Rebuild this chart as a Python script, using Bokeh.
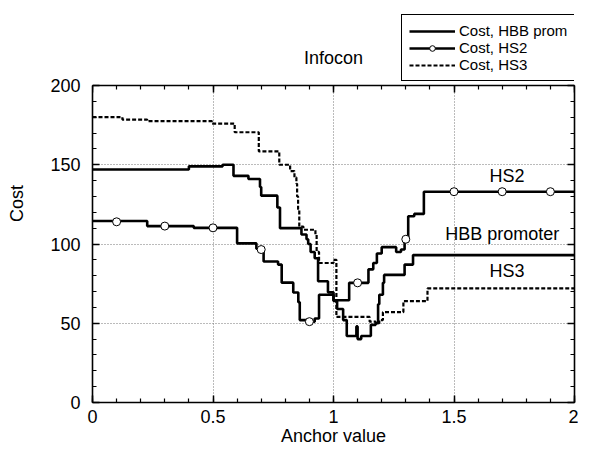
from bokeh.plotting import figure
from bokeh.models import (Range1d, LinearAxis, FixedTicker, Legend, LegendItem,
                          Label, CustomJSTickFormatter, BoxAnnotation)
from bokeh.embed import file_html
from bokeh.resources import INLINE

# ---------------- data ----------------
hbb_x = [0, 0.40, 0.54, 0.585, 0.647, 0.695, 0.70, 0.767, 0.778, 0.867, 0.875,
         0.888, 0.895, 0.905, 0.922, 0.936, 0.977, 1.0, 1.015, 1.04, 1.055,
         1.095, 1.10, 1.115, 1.155, 1.175, 1.185, 1.19, 1.205, 1.21, 1.295,
         1.33, 2.0]
hbb_y = [147, 149, 150, 143, 141, 136, 130.5, 123, 110, 106, 106,
         103, 100, 95, 91, 76.5, 69.5, 64, 59, 52, 42,
         48, 40, 42, 49, 50, 62, 68, 75.5, 80.5, 87,
         93, 93]

hs2_x = [0, 0.227, 0.42, 0.60, 0.68, 0.71, 0.77, 0.785, 0.833, 0.854, 0.86,
         0.90, 0.922, 0.94, 1.0, 1.065, 1.14, 1.145, 1.165, 1.18, 1.20,
         1.255, 1.26, 1.28, 1.295, 1.31, 1.335, 1.375, 2.0]
hs2_y = [114.5, 111.3, 110.2, 100.4, 97, 89, 87, 75.6, 69.4, 63.3, 52,
         51, 53, 68, 64.5, 75.5, 75.5, 84, 88, 94, 98,
         98, 95, 96.5, 103, 117.5, 119, 133, 133]

hs2_marker_x = [0.1, 0.3, 0.5, 0.7, 0.9, 1.1, 1.3, 1.5, 1.7, 1.9]
hs2_marker_y = [114, 111.3, 110.2, 96.5, 51, 75.5, 103, 133, 133, 133]

hs3_x = [0, 0.124, 0.227, 0.496, 0.59, 0.69, 0.775, 0.82, 0.838, 0.846,
         0.849, 0.853, 0.858, 0.875, 0.925, 0.93, 0.94, 1.0, 1.012, 1.14,
         1.15, 1.175, 1.19, 1.205, 1.285, 1.29, 1.39, 2.0]
hs3_y = [180, 178.5, 177.5, 176, 170.5, 158.5, 150, 146, 142, 138,
         130, 122, 111, 109, 106, 95, 88, 90, 54, 54,
         51, 50, 52, 57, 57, 64, 72, 72]

x_ticks = [0, 0.5, 1, 1.5, 2]
x_minor = [0, 0.1, 0.2, 0.3, 0.4, 0.5, 0.6, 0.7, 0.8, 0.9, 1.0,
           1.1, 1.2, 1.3, 1.4, 1.5, 1.6, 1.7, 1.8, 1.9, 2.0]
y_ticks = [0, 50, 100, 150, 200]
y_minor = [0, 10, 20, 30, 40, 50, 60, 70, 80, 90, 100, 110, 120, 130, 140,
           150, 160, 170, 180, 190, 200]
grid_x = [0.5, 1, 1.5]
grid_y = [50, 100, 150]
x_limits = (0, 2)
y_limits = (0, 200)

chart_title = "Infocon"
title_x, title_y = 1.0, 217.5

curve_names = ["HS2", "HBB promoter", "HS3"]
curve_label_x = [1.72, 1.70, 1.72]
curve_label_y = [143, 106, 83]

legend_labels = ["Cost, HBB prom", "Cost, HS2", "Cost, HS3"]

FONT = "Liberation Sans"

# ---------------- layout geometry (pixels) ----------------
W, H = 578, 450
FRAME_LEFT, FRAME_RIGHT = 92, 574
FRAME_TOP, PLOT_TOP, FRAME_BOTTOM = 4, 85, 402
# extend the y range above 200 so that the title/legend area lies in the frame
y_view_top = y_limits[1] * (FRAME_BOTTOM - FRAME_TOP) / (FRAME_BOTTOM - PLOT_TOP)

p = figure(width=W, height=H, output_backend="svg", toolbar_location=None,
           x_range=Range1d(*x_limits), y_range=Range1d(y_limits[0], y_view_top),
           min_border_left=FRAME_LEFT, min_border_right=W - FRAME_RIGHT,
           min_border_top=FRAME_TOP, min_border_bottom=H - FRAME_BOTTOM)
p.background_fill_color = "white"
p.border_fill_color = "white"
p.outline_line_color = None

tick_fmt = CustomJSTickFormatter(code="return tick.toString();")
blank = CustomJSTickFormatter(code="return '';")

def style_axis(ax):
    ax.major_tick_in = 7
    ax.major_tick_out = 0
    ax.minor_tick_in = 4
    ax.minor_tick_out = 0
    ax.axis_line_color = "black"
    ax.axis_line_width = 1.6
    ax.major_tick_line_color = "black"
    ax.major_tick_line_width = 1.5
    ax.minor_tick_line_color = "black"
    ax.minor_tick_line_width = 1.2
    ax.major_label_text_font = FONT
    ax.major_label_text_font_size = "18px"
    ax.major_label_text_color = "black"
    ax.axis_label_text_font = FONT
    ax.axis_label_text_font_size = "18px"
    ax.axis_label_text_font_style = "normal"
    ax.axis_label_text_color = "black"

xax = p.xaxis[0]
yax = p.yaxis[0]
xax.ticker = FixedTicker(ticks=x_ticks, minor_ticks=x_minor)
yax.ticker = FixedTicker(ticks=y_ticks, minor_ticks=y_minor)
xax.formatter = tick_fmt
yax.formatter = tick_fmt
style_axis(xax)
style_axis(yax)
yax.bounds = y_limits
xax.axis_label = "Anchor value"
yax.axis_label = "Cost"
xax.major_label_standoff = 7
xax.axis_label_standoff = 0
yax.major_label_standoff = 12
yax.axis_label_standoff = 20

top = LinearAxis(ticker=FixedTicker(ticks=x_ticks, minor_ticks=x_minor), formatter=blank,
                 fixed_location=y_limits[1], major_label_standoff=0)
right = LinearAxis(ticker=FixedTicker(ticks=y_ticks, minor_ticks=y_minor), formatter=blank,
                   bounds=y_limits, major_label_standoff=0)
style_axis(top)
style_axis(right)
top.major_label_text_font_size = "0px"
right.major_label_text_font_size = "0px"
p.add_layout(top, "above")
p.add_layout(right, "right")

p.xgrid.ticker = FixedTicker(ticks=grid_x)
p.ygrid.ticker = FixedTicker(ticks=grid_y)
for g in (p.xgrid[0], p.ygrid[0]):
    g.grid_line_color = "#777777"
    g.grid_line_dash = "1 2"
    g.grid_line_width = 1

# white cover over the grid above the plotting area (title / legend zone)
p.add_layout(BoxAnnotation(bottom=y_limits[1], fill_color="white", fill_alpha=1,
                           line_color=None, level="underlay"))

# ---------------- curves ----------------
r_hs3 = p.step(hs3_x, hs3_y, mode="after", line_color="black", line_width=2.2,
               line_dash="4 2")
r_hbb = p.step(hbb_x, hbb_y, mode="after", line_color="black", line_width=2.6)
r_hs2 = p.step(hs2_x, hs2_y, mode="after", line_color="black", line_width=2.6)
r_hs2m = p.scatter(hs2_marker_x, hs2_marker_y, marker="circle", size=8,
                   fill_color="white", line_color="black", line_width=1)

for name, lx, ly in zip(curve_names, curve_label_x, curve_label_y):
    p.add_layout(Label(x=lx, y=ly, text=name, text_align="center",
                       text_baseline="middle", text_font=FONT,
                       text_font_size="18px", text_color="black"))

p.add_layout(Label(x=title_x, y=title_y, text=chart_title, text_align="center",
                   text_baseline="middle", text_font=FONT,
                   text_font_size="18px", text_color="black"))

legend = Legend(items=[LegendItem(label=legend_labels[0], renderers=[r_hbb]),
                       LegendItem(label=legend_labels[1], renderers=[r_hs2, r_hs2m]),
                       LegendItem(label=legend_labels[2], renderers=[r_hs3])],
                location=(309, 321))
legend.border_line_color = "black"
legend.border_line_alpha = 1
legend.border_line_width = 1.5
legend.background_fill_color = "white"
legend.background_fill_alpha = 1
legend.label_text_font = FONT
legend.label_text_font_size = "15px"
legend.label_text_color = "black"
legend.glyph_width = 46
legend.glyph_height = 14
legend.label_height = 15
legend.label_standoff = 4
legend.spacing = 0
legend.padding = 7
legend.margin = 0
p.add_layout(legend, "center")

open("out.html", "w").write(file_html(p, INLINE))
